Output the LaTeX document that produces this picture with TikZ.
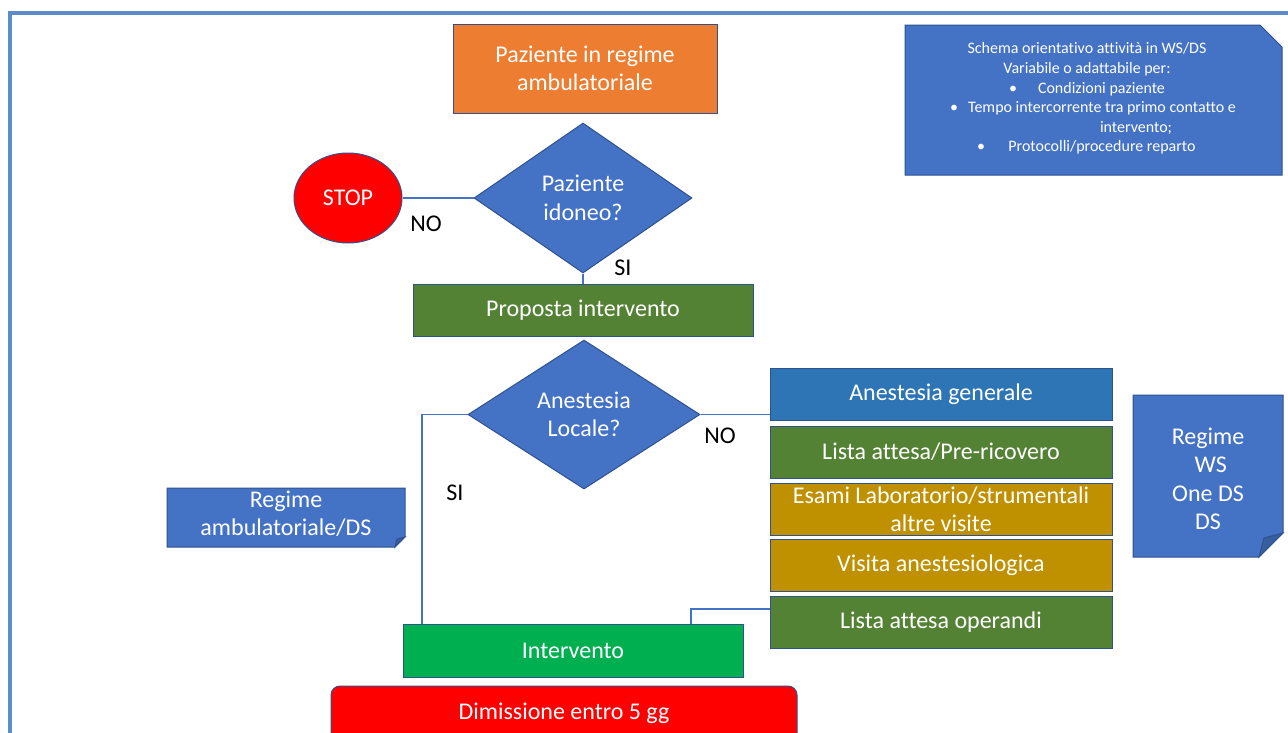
\documentclass[tikz,border=0pt]{standalone}
\usepackage{fontspec}
\setmainfont{Carlito}[Ligatures=NoCommon]
\usetikzlibrary{shapes.geometric}
\definecolor{outl}{HTML}{2F528F}
\definecolor{cblue}{HTML}{4472C4}
\definecolor{corange}{HTML}{ED7D31}
\definecolor{cgreen}{HTML}{548235}
\definecolor{cgold}{HTML}{BF9000}
\definecolor{cmid}{HTML}{2E75B6}
\definecolor{cbright}{HTML}{00B050}
\definecolor{cframe}{HTML}{5B8BC9}
\definecolor{cflap}{HTML}{365F9F}
\def\fbig{\fontsize{24}{28.5}\selectfont}
\def\fsmall{\fontsize{16}{19.6}\selectfont}
\tikzset{
  box/.style={draw=outl, line width=1pt, text=white, font=\fbig, align=center, inner sep=0pt},
  dia/.style={diamond, draw=outl, line width=1pt, fill=cblue, text=white, font=\fbig, align=center, inner sep=0pt},
  conn/.style={draw=cblue, line width=1.3pt},
  lbl/.style={font=\fbig, text=black, inner sep=0pt},
  note/.style={draw=outl, line width=1pt, fill=cblue},
  flap/.style={draw=outl, line width=1pt, fill=cflap},
  itxt/.style={text=white, font=\fsmall, inner sep=0pt, anchor=base},
}
\begin{document}
\begin{tikzpicture}[x=1pt,y=-1pt]
\useasboundingbox (0,0) rectangle (1288,732);
\clip (0,0) rectangle (1288,732);
\fill[white] (0,0) rectangle (1288,732);
% frame
\draw[cframe, line width=4pt] (10,760) -- (10,13) -- (1300,13);

% start
\node[box, fill=corange, minimum width=264, minimum height=89] (start) at (585,68.5) {Paziente in regime\\ambulatoriale};
% decision 1
\node[dia, minimum width=218, minimum height=150] (q1) at (583,198) {Paziente\\idoneo?};
\node[ellipse, draw=outl, line width=1pt, fill=red, text=white, font=\fbig, minimum width=108, minimum height=90, inner sep=0pt] (stop) at (348,198) {STOP};
\node[box, fill=cgreen, minimum width=340, minimum height=52] (prop) at (583,310) {Proposta intervento};
% decision 2
\node[dia, minimum width=232, minimum height=149] (q2) at (584,414.5) {Anestesia\\Locale?};

% right column
\node[box, fill=cmid, minimum width=342, minimum height=52] (ag) at (941,394) {Anestesia generale};
\node[box, fill=cgreen, minimum width=342, minimum height=52] (lista) at (941,452) {Lista attesa/Pre-ricovero};
\node[box, fill=cgold, minimum width=342, minimum height=52] (esami) at (941,509) {Esami Laboratorio/strumentali\\altre visite};
\node[box, fill=cgold, minimum width=342, minimum height=52] (visita) at (941,565) {Visita anestesiologica};
\node[box, fill=cgreen, minimum width=342, minimum height=52] (oper) at (941,622) {Lista attesa operandi};

% intervento
\node[box, fill=cbright, minimum width=340, minimum height=53] (int) at (573,650.5) {Intervento};
% dimissione
\draw[draw=outl, line width=1pt, fill=red, rounded corners=9pt] (331,686) rectangle (797,745);
\node[font=\fbig, text=white, inner sep=0pt] (dim) at (564,713) {Dimissione entro 5 gg};

% connectors
\draw[conn] (stop.east) -- (q1.west);
\draw[conn] (q1.south) -- (prop.north);
\coordinate (c1) at (422,414.5);
\draw[conn] (q2.west) -- (c1) -- (c1 |- int.north);
\draw[conn] (q2.east) -- (ag.west |- q2.east);
\coordinate (c2) at (691,609);
\draw[conn] (c2 -| oper.west) -- (c2) -- (c2 |- int.north);

% labels
\node[lbl] (no1) at (426,224) {NO};
\node[lbl] (si1) at (623,268) {SI};
\node[lbl] (no2) at (720,436) {NO};
\node[lbl] (si2) at (455,493) {SI};

% note: Regime ambulatoriale/DS
\draw[note] (167,488) -- (405,488) -- (405,537) -- (395,547) -- (167,547) -- cycle;
\draw[flap] (395,547) -- (397,539) -- (405,537) -- cycle;
\node[text=white, font=\fbig, align=center, inner sep=0pt] (ramb) at (286,513.5) {Regime\\ambulatoriale/DS};

% note: Regime WS
\draw[note] (1133,395) -- (1283,395) -- (1283,533) -- (1259,557) -- (1133,557) -- cycle;
\draw[flap] (1259,557) -- (1264,538) -- (1283,533) -- cycle;
\node[text=white, font=\fbig, align=center, inner sep=0pt] (rws) at (1208,479) {Regime\\\ WS\\One DS\\DS};

% info box
\draw[note] (905,25) -- (1260,25) -- (1282,47) -- (1282,175) -- (905,175) -- cycle;
\node[itxt] (i1) at (1087,53.5) {Schema orientativo attività in WS/DS};
\node[itxt] (i2) at (1087,73) {Variabile o adattabile per:};
\node[itxt] (b3) at (1013,93) {•};
\node[itxt] (i3) at (1101.5,93) {Condizioni paziente};
\node[itxt] (b4) at (954,112.5) {•};
\node[itxt] (i4) at (1102,112.5) {Tempo intercorrente tra primo contatto e};
\node[itxt] (i5) at (1136,132) {intervento;};
\node[itxt] (b6) at (981,151.5) {•};
\node[itxt] (i6) at (1102,151.5) {Protocolli/procedure reparto};
\end{tikzpicture}
\end{document}
